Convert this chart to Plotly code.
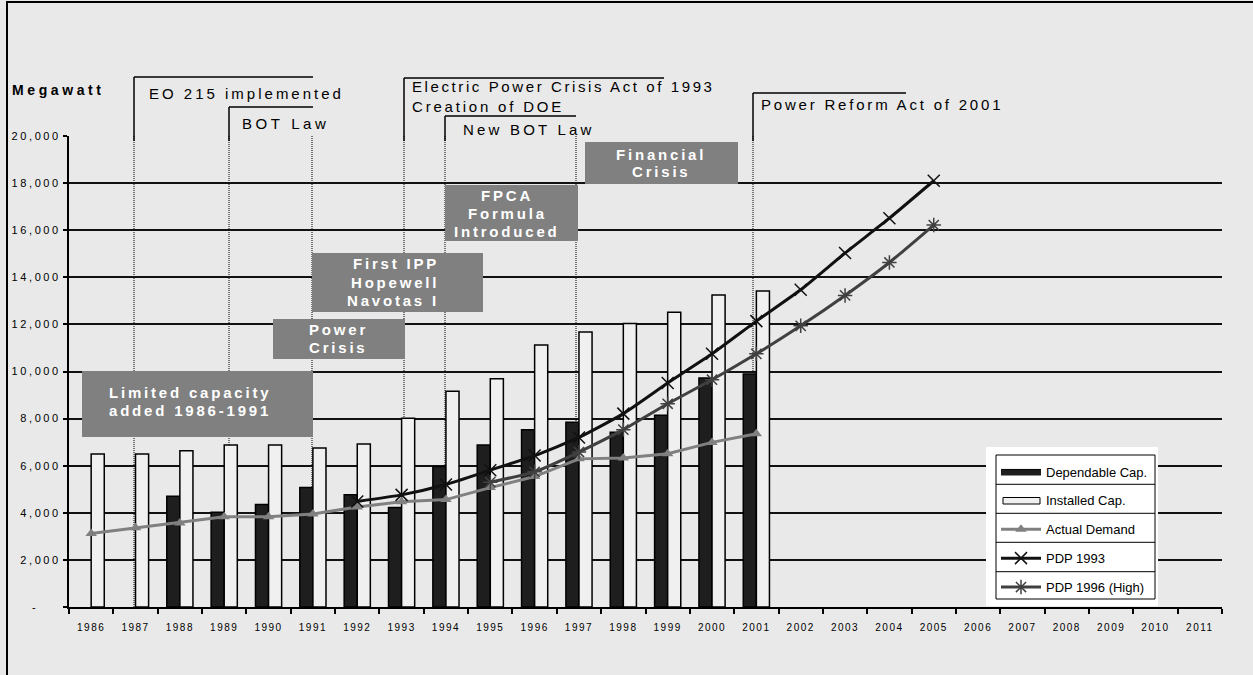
import plotly.graph_objects as go

# ---------------- data ----------------
years = list(range(1986, 2012))
dep_years = list(range(1988, 2002))
dependable = [4700, 4020, 4350, 5070, 4770, 4220, 5970, 6880, 7530, 7840, 7420, 8140, 9720, 9890]
inst_years = list(range(1986, 2002))
installed = [6500, 6500, 6640, 6880, 6880, 6750, 6920, 8010, 9160, 9690, 11130, 11680, 12040, 12520, 13250, 13420]
demand_years = list(range(1986, 2002))
demand = [3120, 3360, 3570, 3830, 3830, 3950, 4250, 4470, 4560, 5070, 5540, 6290, 6330, 6510, 6990, 7360]
pdp93_years = list(range(1992, 2006))
pdp93 = [4480, 4760, 5200, 5810, 6430, 7200, 8210, 9510, 10750, 12140, 13470, 15030, 16510, 18100]
pdp96_years = list(range(1995, 2006))
pdp96 = [5300, 5740, 6580, 7530, 8630, 9650, 10750, 11940, 13230, 14630, 16220]
y_ticks = list(range(0, 20001, 2000))
y_labels = ["-&nbsp;&nbsp;&nbsp;&nbsp;"] + ["{:,}".format(v) for v in y_ticks[1:]]

# ---------------- geometry helpers ----------------
W, H = 1253, 675
L, R, T, B = 69, 31, 136, 68
FONT = "Liberation Sans, Arial, sans-serif"


def fx(px):
    return (px - L) / (W - L - R)


def fy(py):
    return (H - B - py) / (H - T - B)


def sp(text, ls):
    return '<span style="letter-spacing:%.1fpx">%s</span>' % (ls, text)


fig = go.Figure()

DEP_COL, INST_COL = "#1e1e1e", "#f0f0f0"
fig.add_trace(go.Bar(x=dep_years, y=dependable, name="Dependable Cap.",
                     marker=dict(color=DEP_COL, line=dict(color="black", width=1.5)),
                     legendgroup="a", showlegend=False))
fig.add_trace(go.Bar(x=inst_years, y=installed, name="Installed Cap.",
                     marker=dict(color=INST_COL, line=dict(color="black", width=1.5)),
                     legendgroup="b", showlegend=False))
# legend keys for the bar series (Excel-style wide rectangles)
fig.add_trace(go.Scatter(x=[None], y=[None], name="Dependable Cap.", mode="lines", fill="toself",
                         fillcolor=DEP_COL, line=dict(color="black", width=1), legendgroup="a",
                         hoverinfo="skip"))
fig.add_trace(go.Scatter(x=[None], y=[None], name="Installed Cap.", mode="lines", fill="toself",
                         fillcolor="rgba(0,0,0,0)", line=dict(color="black", width=0), legendgroup="b",
                         hoverinfo="skip"))
fig.add_trace(go.Scatter(x=demand_years, y=demand, name="Actual Demand", mode="lines+markers",
                         line=dict(color="#808080", width=3),
                         marker=dict(symbol="triangle-up", size=10, color="#808080"),
                         legendgroup="c"))
fig.add_trace(go.Scatter(x=pdp93_years, y=pdp93, name="PDP 1993", mode="lines+markers",
                         line=dict(color="#111111", width=3, shape="spline", smoothing=0.5),
                         marker=dict(symbol="x-thin", size=12, line=dict(color="#111111", width=1.5)),
                         legendgroup="d"))
fig.add_trace(go.Scatter(x=pdp96_years, y=pdp96, name="PDP 1996 (High)", mode="lines+markers",
                         line=dict(color="#404040", width=3, shape="spline", smoothing=0.5),
                         marker=dict(symbol="asterisk", size=12, line=dict(color="#404040", width=1.5)),
                         legendgroup="e"))

shapes = []
# frame
shapes.append(dict(type="rect", xref="paper", yref="paper", x0=fx(7), x1=fx(1262), y0=fy(2), y1=fy(685),
                   line=dict(color="black", width=2), layer="above"))
# dotted event lines
for px in [134, 229, 312, 404, 445, 576, 753]:
    shapes.append(dict(type="line", xref="paper", yref="paper", x0=fx(px), x1=fx(px), y0=fy(136), y1=fy(607),
                       line=dict(color="black", width=1, dash="1px,1px"), layer="below"))
# brackets above plot: (x, top y, right x)
for bx, by, bx2 in [(134, 77, 313), (229, 107, 313), (404, 78, 664), (445, 116, 576), (753, 93, 906)]:
    shapes.append(dict(type="line", xref="paper", yref="paper", x0=fx(bx), x1=fx(bx), y0=fy(141), y1=fy(by),
                       line=dict(color="black", width=1.5), layer="above"))
    shapes.append(dict(type="line", xref="paper", yref="paper", x0=fx(bx), x1=fx(bx2), y0=fy(by), y1=fy(by),
                       line=dict(color="black", width=1.5), layer="above"))
# gray boxes
boxes = [(82, 371, 313, 437), (273, 319, 405, 359), (312, 253, 483, 312), (445, 185, 578, 241), (585, 142, 738, 184)]
for x0, y0, x1, y1 in boxes:
    shapes.append(dict(type="rect", xref="paper", yref="paper", x0=fx(x0), x1=fx(x1), y0=fy(y0), y1=fy(y1),
                       fillcolor="#808080", line=dict(width=0), layer="above"))
# legend background and table lines
shapes.append(dict(type="rect", xref="paper", yref="paper", x0=fx(986), x1=fx(1158), y0=fy(447), y1=fy(606),
                   fillcolor="white", line=dict(width=0), layer="above"))
shapes.append(dict(type="rect", xref="paper", yref="paper", x0=fx(996), x1=fx(1155), y0=fy(455), y1=fy(599),
                   fillcolor="rgba(0,0,0,0)", line=dict(color="black", width=1), layer="above"))
for py in [484.3, 513.3, 542.3, 571.7]:
    shapes.append(dict(type="line", xref="paper", yref="paper", x0=fx(996), x1=fx(1155), y0=fy(py), y1=fy(py),
                       line=dict(color="black", width=1), layer="above"))
# outlined key for the installed-capacity legend entry
shapes.append(dict(type="rect", xref="paper", yref="paper", x0=fx(1003), x1=fx(1040), y0=fy(497.5), y1=fy(504),
                   fillcolor=INST_COL, line=dict(color="black", width=1), layer="above"))

annotations = []


def txt(text, px, py, size=15, ls=2.8, bold=False, color="black", anchor="left"):
    t = sp(text, ls)
    if bold:
        t = "<b>" + t + "</b>"
    annotations.append(dict(text=t, xref="paper", yref="paper", x=fx(px), y=fy(py), xanchor=anchor,
                            yanchor="middle", showarrow=False, align=anchor if anchor != "center" else "center",
                            font=dict(size=size, color=color, family=FONT)))


txt("Megawatt", 10, 90, size=14, ls=3.6, bold=True)
txt("EO 215 implemented", 147, 93, ls=3.0)
txt("BOT Law", 240, 123, ls=3.6)
txt(sp("Electric Power Crisis Act of 1993", 2.6) + "<br>" + sp("Creation of DOE", 2.8), 410, 96, ls=0)
txt("New BOT Law", 461, 129, ls=3.2)
txt("Power Reform Act of 2001", 759, 104, ls=2.75)

# box texts (white bold)
BS, BL = 15, 2.8
txt("Limited capacity", 190, 392, size=BS, ls=BL, bold=True, color="white", anchor="center")
txt("added 1986-1991", 190, 410, size=BS, ls=BL, bold=True, color="white", anchor="center")
txt("Power", 307, 329, size=BS, ls=BL, bold=True, color="white")
txt("Crisis", 307, 347, size=BS, ls=BL, bold=True, color="white")
txt("First IPP", 441, 263, size=BS, ls=BL, bold=True, color="white", anchor="right")
txt("Hopewell", 441, 282, size=BS, ls=BL, bold=True, color="white", anchor="right")
txt("Navotas I", 441, 300, size=BS, ls=BL, bold=True, color="white", anchor="right")
txt("FPCA", 507, 195, size=BS, ls=BL, bold=True, color="white", anchor="center")
txt("Formula", 507, 213, size=BS, ls=BL, bold=True, color="white", anchor="center")
txt("Introduced", 507, 232, size=BS, ls=BL, bold=True, color="white", anchor="center")
txt("Financial", 661, 154, size=BS, ls=BL, bold=True, color="white", anchor="center")
txt("Crisis", 661, 171, size=BS, ls=BL, bold=True, color="white", anchor="center")

fig.update_layout(
    width=W, height=H,
    margin=dict(l=L, r=R, t=T, b=B, pad=0),
    paper_bgcolor="#e9e9e9",
    plot_bgcolor="rgba(0,0,0,0)",
    barmode="group", bargap=0.41, bargroupgap=0,
    font=dict(family=FONT, color="black"),
    shapes=shapes,
    annotations=annotations,
    legend=dict(x=fx(996), y=fy(456.5), xanchor="left", yanchor="top",
                bgcolor="rgba(0,0,0,0)", borderwidth=0,
                font=dict(size=13, family=FONT, color="black"),
                itemwidth=40, tracegroupgap=9, traceorder="grouped"),
    xaxis=dict(range=[1985.5, 2011.5], tickmode="array", tickvals=years,
               ticktext=[sp(str(y), 1.5) for y in years],
               tickfont=dict(size=10, family=FONT, color="black"),
               ticks="", showgrid=False, zeroline=False,
               showline=True, linecolor="black", linewidth=2,
               ticklabelstandoff=10,
               minor=dict(tickmode="array", tickvals=[y - 0.5 for y in years] + [2011.5],
                          ticks="outside", ticklen=5, tickcolor="black", tickwidth=1.5, showgrid=False)),
    yaxis=dict(range=[0, 20000], tickmode="array", tickvals=y_ticks,
               ticktext=[sp(t, 2.6) for t in y_labels],
               tickfont=dict(size=11, family=FONT, color="black"),
               ticks="outside", ticklen=4, tickcolor="black", tickwidth=1.5,
               showgrid=True, gridcolor="#111111", gridwidth=1.5, zeroline=False,
               showline=True, linecolor="black", linewidth=2),
)

fig.write_html("out.html", config={"displayModeBar": False},
               post_script="document.body.style.margin='0px';document.body.style.overflow='hidden';")
